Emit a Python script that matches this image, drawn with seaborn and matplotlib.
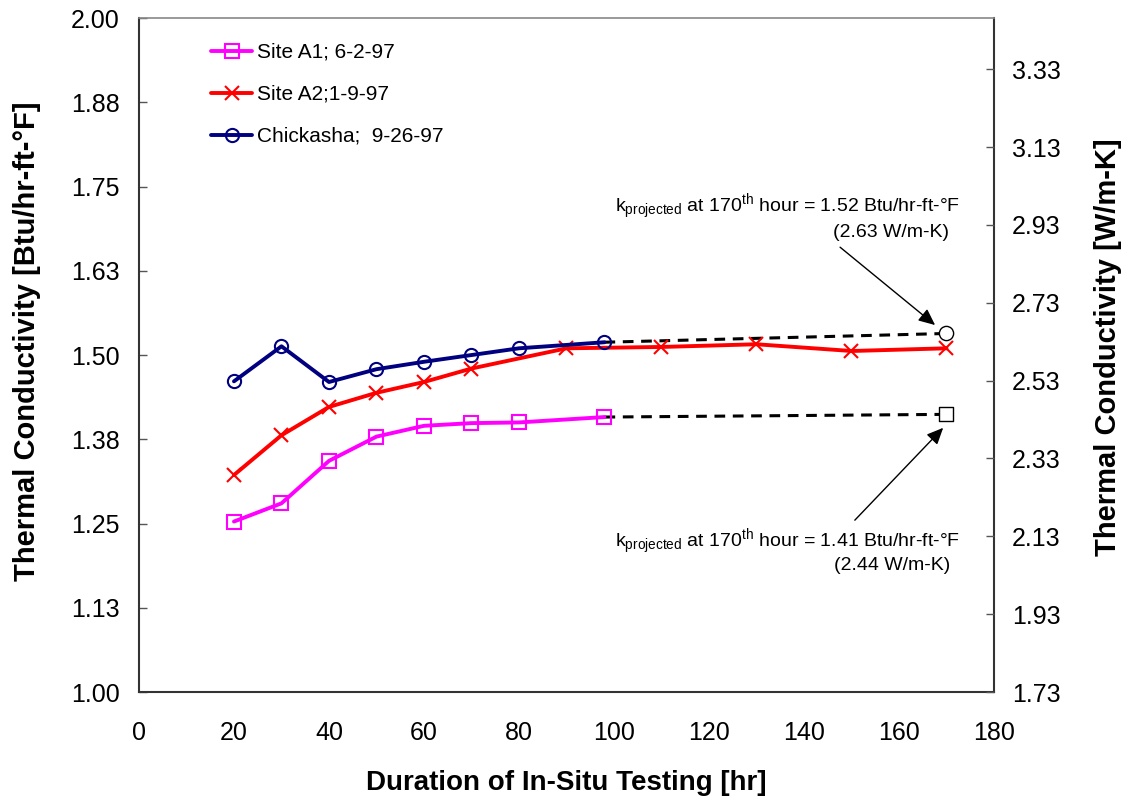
import matplotlib
matplotlib.use("Agg")
import matplotlib.pyplot as plt
import seaborn as sns
import pandas as pd
import numpy as np

# ---- data ----
a1_hours = [20, 30, 40, 50, 60, 70, 80, 98]
a1_k = [1.253, 1.280, 1.343, 1.379, 1.395, 1.399, 1.400, 1.408]

a2_hours = [20, 30, 40, 50, 60, 70, 90, 110, 130, 150, 170]
a2_k = [1.322, 1.381, 1.423, 1.444, 1.460, 1.480, 1.510, 1.512, 1.516, 1.506, 1.510]

ch_hours = [20, 30, 40, 50, 60, 70, 80, 98]
ch_k = [1.461, 1.513, 1.460, 1.479, 1.490, 1.500, 1.510, 1.519]

proj_hour = 170
a1_proj = 1.412
ch_proj = 1.532

series_labels = ["Site A1; 6-2-97", "Site A2;1-9-97", "Chickasha;  9-26-97"]
series_colors = ["#FF00FF", "#FF0000", "#000080"]

left_ticks = [1.00, 1.125, 1.25, 1.375, 1.50, 1.625, 1.75, 1.875, 2.00]
left_ticklabels = ["1.00", "1.13", "1.25", "1.38", "1.50", "1.63", "1.75", "1.88", "2.00"]
right_ticks = [1.73, 1.93, 2.13, 2.33, 2.53, 2.73, 2.93, 3.13, 3.33]
x_ticks = [0, 20, 40, 60, 80, 100, 120, 140, 160, 180]
CONV = 1.7307  # W/m-K per Btu/hr-ft-F

# ---- style ----
sns.set_style("white")
plt.rcParams["font.family"] = ["Liberation Sans", "DejaVu Sans"]
plt.rcParams["mathtext.fontset"] = "custom"
plt.rcParams["mathtext.rm"] = "Liberation Sans"
plt.rcParams["mathtext.it"] = "Liberation Sans"
plt.rcParams["text.color"] = "black"
plt.rcParams["axes.labelcolor"] = "black"

fig = plt.figure(figsize=(11.28, 8.01), dpi=100)
ax = fig.add_axes([0.1232, 0.136, 0.758, 0.8415])

# dashed projection lines
dfp1 = pd.DataFrame({"x": [ch_hours[-1], proj_hour], "y": [ch_k[-1], ch_proj]})
dfp2 = pd.DataFrame({"x": [a1_hours[-1], proj_hour], "y": [a1_k[-1], a1_proj]})
for d in (dfp1, dfp2):
    sns.lineplot(data=d, x="x", y="y", ax=ax, color="black", lw=2.2,
                 linestyle=(0, (3.5, 2.5)), zorder=2, legend=False)

ms = 9.5
df_a1 = pd.DataFrame({"x": a1_hours, "y": a1_k})
df_a2 = pd.DataFrame({"x": a2_hours, "y": a2_k})
df_ch = pd.DataFrame({"x": ch_hours, "y": ch_k})
sns.lineplot(data=df_a1, x="x", y="y", ax=ax, color=series_colors[0], lw=2.8,
             marker="s", markersize=ms, markerfacecolor="none",
             markeredgecolor=series_colors[0], markeredgewidth=1.5, zorder=4, legend=False)
sns.lineplot(data=df_a2, x="x", y="y", ax=ax, color=series_colors[1], lw=2.8,
             marker="x", markersize=ms + 1, markeredgecolor=series_colors[1],
             markeredgewidth=1.5, zorder=4, legend=False)
sns.lineplot(data=df_ch, x="x", y="y", ax=ax, color=series_colors[2], lw=2.8,
             marker="o", markersize=ms, markerfacecolor="none",
             markeredgecolor=series_colors[2], markeredgewidth=1.5, zorder=5, legend=False)

# projected markers
sns.scatterplot(x=[proj_hour], y=[ch_proj], ax=ax, marker="o", s=105,
                facecolor="white", edgecolor="black", linewidth=1.0, zorder=6, legend=False)
sns.scatterplot(x=[proj_hour], y=[a1_proj], ax=ax, marker="s", s=105,
                facecolor="white", edgecolor="black", linewidth=1.0, zorder=6, legend=False)

lines = ax.get_lines()
handles = [l for l in lines if l.get_marker() in ("s", "x", "o")][:3]
ax.legend(handles, series_labels, loc="upper left", bbox_to_anchor=(0.084, 0.963),
          frameon=False, fontsize=15, handlelength=2.0, handletextpad=0.2,
          labelspacing=1.1, borderpad=0, borderaxespad=0, labelcolor="black")

ax.set_xlim(0, 180)
ax.set_ylim(1.0, 2.0)
ax.set_xticks(x_ticks)
ax.set_yticks(left_ticks)
ax.set_yticklabels(left_ticklabels)
ax.tick_params(axis="both", direction="in", length=6, width=1.0, labelsize=18,
               colors="#555555", labelcolor="black")
ax.tick_params(axis="y", pad=14)
ax.tick_params(axis="x", pad=21)
for side in ["left", "bottom", "right"]:
    ax.spines[side].set_color("#333333")
    ax.spines[side].set_linewidth(1.5)
ax.spines["top"].set_color("#888888")
ax.spines["top"].set_linewidth(1.2)

ax.set_xlabel("Duration of In-Situ Testing [hr]", fontsize=20, fontweight="bold", labelpad=18)
ax.set_ylabel("Thermal Conductivity [Btu/hr-ft-°F]", fontsize=21, fontweight="bold")
ax.yaxis.set_label_coords(-0.114, 0.52)

ax2 = ax.twinx()
ax2.set_ylim(1.0 * CONV, 2.0 * CONV)
ax2.set_yticks(right_ticks)
ax2.set_yticklabels([f"{t:.2f}" for t in right_ticks])
ax2.tick_params(axis="y", direction="in", length=6, width=1.0, labelsize=18, pad=13,
                colors="#555555", labelcolor="black")
for s in ax2.spines.values():
    s.set_visible(False)
ax2.set_ylabel("Thermal Conductivity [W/m-K]", fontsize=21, fontweight="bold")
ax2.yaxis.set_label_coords(1.117, 0.512)

# annotations
txt_kw = dict(fontsize=14, ha="right", va="center", color="black")
ax.text(172.8, 1.7196, r"k$_{\mathrm{projected}}$ at 170$^{\mathrm{th}}$ hour = 1.52 Btu/hr-ft-°F", **txt_kw)
ax.text(170.5, 1.6825, "(2.63 W/m-K)", **txt_kw)
ax.text(172.8, 1.2225, r"k$_{\mathrm{projected}}$ at 170$^{\mathrm{th}}$ hour = 1.41 Btu/hr-ft-°F", **txt_kw)
ax.text(170.8, 1.188, "(2.44 W/m-K)", **txt_kw)

arrow_kw = dict(arrowstyle="-|>,head_length=1.0,head_width=0.45", color="black", lw=1.0,
                shrinkA=0, shrinkB=0)
ax.annotate("", xy=(167.6, 1.5445), xytext=(147.6, 1.660), arrowprops=arrow_kw)
ax.annotate("", xy=(169.3, 1.392), xytext=(150.7, 1.255), arrowprops=arrow_kw)

fig.savefig("out.png", dpi=100)
